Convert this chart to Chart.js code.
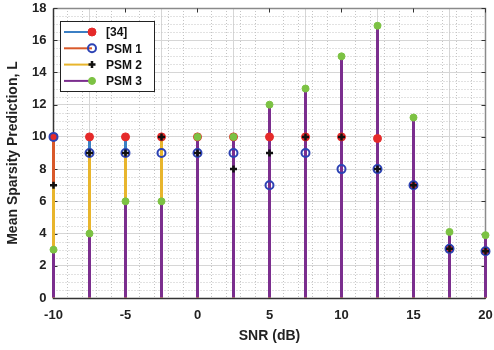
<!DOCTYPE html>
<html>
<head>
<meta charset="utf-8">
<script src="https://cdn.jsdelivr.net/npm/chart.js@4.4.1/dist/chart.umd.min.js"></script>
<style>
html,body{margin:0;padding:0;background:#fff;}
#wrap{width:494px;height:350px;}
</style>
</head>
<body>
<div id="wrap"><canvas id="c" width="494" height="350"></canvas></div>
<script>
const snr   = [-10, -7.5, -5, -2.5, 0, 2.5, 5, 7.5, 10, 12.5, 15, 17.5, 20];
const ref34 = [10, 10, 10, 10, 10, 10, 10, 10, 10, 9.9, 7, 3.05, 2.9];
const psm1  = [10, 9, 9, 9, 9, 9, 7, 9, 8, 8, 7, 3.05, 2.9];
const psm2  = [7, 9, 9, 10, 9, 8, 9, 10, 10, 8, 7, 3.05, 2.9];
const psm3  = [3, 4, 6, 6, 10, 10, 12, 13, 15, 16.9, 11.2, 4.1, 3.9];
const seriesNames = ['[34]', 'PSM 1', 'PSM 2', 'PSM 3'];
const yTicks = [0, 2, 4, 6, 8, 10, 12, 14, 16, 18];
const xTicks = [-10, -5, 0, 5, 10, 15, 20];
const xLabel = 'SNR (dB)';
const yLabel = 'Mean Sparsity Prediction, L';

const stemColors = ['#3b7fc4', '#d9592a', '#e8b52c', '#7b2e8e'];
const markerSpecs = [
  {style:'circle', fill:'#e52a2a', stroke:'#e52a2a', r:4, w:1},
  {style:'circle', fill:'rgba(0,0,0,0)', stroke:'#2c42b4', r:4, w:2},
  {style:'cross', fill:'#111', stroke:'#111', r:3.5, w:2.5},
  {style:'circle', fill:'#7cc243', stroke:'#7cc243', r:3.5, w:1}
];
const allSeries = [ref34, psm1, psm2, psm3];
const pts = arr => snr.map((x, i) => ({x: x, y: arr[i]}));

const datasets = [];
allSeries.forEach((arr, k) => {
  datasets.push({
    type: 'bar', label: seriesNames[k] + ' stem', data: pts(arr),
    backgroundColor: stemColors[k], borderWidth: 0, inflateAmount: 0,
    maxBarThickness: 3, barThickness: 3,
    grouped: false, clip: false, order: 8 - k
  });
});
allSeries.forEach((arr, k) => {
  const m = markerSpecs[k];
  datasets.push({
    type: 'line', label: seriesNames[k], data: pts(arr), showLine: false,
    pointStyle: m.style, pointRadius: m.r, pointBorderWidth: m.w,
    pointBackgroundColor: m.fill, pointBorderColor: m.stroke,
    clip: false, order: 4 - k
  });
});

const FONT = "'Liberation Sans', Arial, sans-serif";

const framePlugin = {
  id: 'frame',
  beforeDatasetsDraw(chart) {
    const {ctx, chartArea: a, scales: {x, y}} = chart;
    const L = Math.floor(a.left) + 0.5, R = Math.floor(a.right) + 0.5;
    const T = Math.round(a.top) + 0.5, B = Math.round(a.bottom) + 0.5;
    ctx.save();
    ctx.strokeStyle = '#c4c4c4';
    ctx.lineWidth = 1;
    ctx.setLineDash([1, 2]);
    for (let v = -10; v <= 20; v += 1) {
      if (v % 5 === 0) continue;
      const px = Math.floor(x.getPixelForValue(v)) + 0.5;
      ctx.beginPath(); ctx.moveTo(px, a.top); ctx.lineTo(px, a.bottom); ctx.stroke();
    }
    for (let v = 0; v <= 18; v += 0.5) {
      if (v % 2 === 0) continue;
      const py = Math.round(y.getPixelForValue(v)) + 0.5;
      ctx.beginPath(); ctx.moveTo(a.left, py); ctx.lineTo(a.right, py); ctx.stroke();
    }
    ctx.setLineDash([]);
    ctx.lineWidth = 1.5;
    ctx.strokeStyle = '#8a8a8a';
    ctx.beginPath(); ctx.moveTo(L, T); ctx.lineTo(R, T); ctx.lineTo(R, B); ctx.stroke();
    ctx.strokeStyle = '#333';
    ctx.beginPath(); ctx.moveTo(L, T); ctx.lineTo(L, B); ctx.lineTo(R, B); ctx.stroke();
    ctx.lineWidth = 1;
    yTicks.forEach(v => {
      const py = Math.round(y.getPixelForValue(v)) + 0.5;
      ctx.beginPath(); ctx.moveTo(L, py); ctx.lineTo(L + 4, py); ctx.stroke();
      ctx.beginPath(); ctx.moveTo(R, py); ctx.lineTo(R - 4, py); ctx.stroke();
    });
    xTicks.forEach(v => {
      const px = Math.floor(x.getPixelForValue(v)) + 0.5;
      ctx.beginPath(); ctx.moveTo(px, B); ctx.lineTo(px, B - 4); ctx.stroke();
      ctx.beginPath(); ctx.moveTo(px, T); ctx.lineTo(px, T + 4); ctx.stroke();
    });
    ctx.restore();
  },
  afterDraw(chart) {
    const {ctx, chartArea: a} = chart;
    ctx.save();
    const bx = Math.floor(a.left) + 7, by = Math.round(a.top) + 13, bw = 94, bh = 70;
    ctx.fillStyle = '#fff';
    ctx.fillRect(bx, by, bw, bh);
    ctx.strokeStyle = '#222';
    ctx.lineWidth = 1;
    ctx.strokeRect(bx + 0.5, by + 0.5, bw, bh);
    ctx.font = 'bold 12px ' + FONT;
    ctx.textBaseline = 'middle';
    ctx.textAlign = 'left';
    seriesNames.forEach((name, k) => {
      const ly = by + 11 + k * 16.3;
      ctx.strokeStyle = stemColors[k];
      ctx.lineWidth = 2;
      ctx.beginPath(); ctx.moveTo(bx + 4, ly); ctx.lineTo(bx + 32, ly); ctx.stroke();
      const m = markerSpecs[k];
      const mx = bx + 32;
      if (m.style === 'circle') {
        ctx.beginPath(); ctx.arc(mx, ly, m.r, 0, Math.PI * 2);
        ctx.fillStyle = m.fill; ctx.fill();
        ctx.lineWidth = m.w; ctx.strokeStyle = m.stroke; ctx.stroke();
      } else {
        ctx.lineWidth = m.w; ctx.strokeStyle = m.stroke;
        ctx.beginPath();
        ctx.moveTo(mx - m.r, ly); ctx.lineTo(mx + m.r, ly);
        ctx.moveTo(mx, ly - m.r); ctx.lineTo(mx, ly + m.r);
        ctx.stroke();
      }
      ctx.fillStyle = '#111';
      ctx.fillText(name, bx + 46, ly + 1);
    });
    ctx.restore();
  }
};

new Chart(document.getElementById('c'), {
  type: 'bar',
  data: {datasets: datasets},
  plugins: [framePlugin],
  options: {
    responsive: false,
    animation: false,
    layout: {padding: {top: 8, right: 8.5, left: 0.5, bottom: 0}},
    plugins: {legend: {display: false}, tooltip: {enabled: false}},
    scales: {
      x: {
        type: 'linear', min: -10, max: 20, offset: false,
        afterBuildTicks: s => { s.ticks = xTicks.map(v => ({value: v})); },
        afterFit: s => { s.height = 52; s.paddingLeft = 0; s.paddingRight = 0; },
        grid: {color: '#d6d6d6', lineWidth: 1, drawTicks: false},
        border: {display: false},
        ticks: {font: {family: FONT, size: 13, weight: 'bold'}, color: '#222', padding: 10, maxRotation: 0},
        title: {display: true, text: xLabel, font: {family: FONT, size: 14, weight: 'bold'}, color: '#222', padding: {top: 0, bottom: 5}}
      },
      y: {
        type: 'linear', min: 0, max: 18,
        afterBuildTicks: s => { s.ticks = yTicks.map(v => ({value: v})); },
        afterFit: s => { s.width = 53; s.paddingTop = 0; s.paddingBottom = 0; },
        grid: {color: '#d6d6d6', lineWidth: 1, drawTicks: false},
        border: {display: false},
        ticks: {font: {family: FONT, size: 13, weight: 'bold'}, color: '#222', padding: 7},
        title: {display: true, text: yLabel, font: {family: FONT, size: 14, weight: 'bold'}, color: '#222', padding: {top: 4, bottom: 0}}
      }
    }
  }
});
</script>
</body>
</html>
